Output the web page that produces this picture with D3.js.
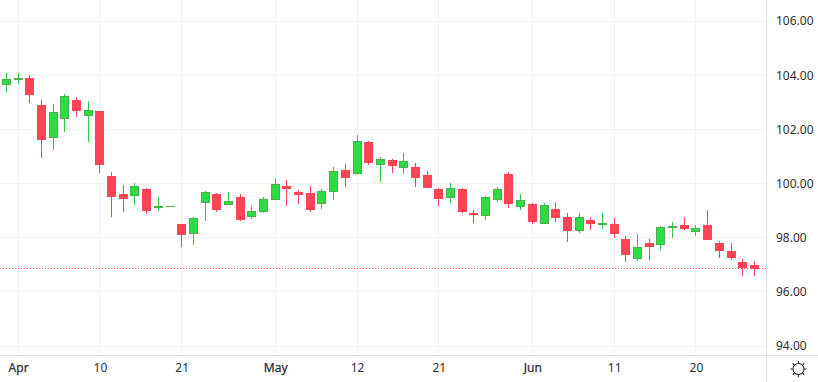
<!DOCTYPE html>
<html>
<head>
<meta charset="utf-8">
<script src="https://cdn.jsdelivr.net/npm/d3@7/dist/d3.min.js"></script>
<style>
    html, body { margin: 0; padding: 0; background: #fff; overflow: hidden; }
    svg { display: block; }
    text { font-family: "Noto Sans", sans-serif; font-size: 12px; fill: #2f2f2f; }
</style>
</head>
<body>
<svg id="chart" width="818" height="382"></svg>
<script>
const open = [103.65,103.82,103.89,102.90,101.69,102.39,103.08,102.50,102.68,100.28,99.61,99.55,99.80,99.11,99.14,98.51,98.15,99.29,99.61,99.22,99.50,98.77,98.96,99.40,99.91,99.69,99.65,99.25,99.70,100.49,100.36,101.53,100.69,100.86,100.58,100.61,100.31,99.80,99.48,99.80,98.91,98.81,99.40,100.35,99.14,99.24,98.52,99.06,98.76,98.24,98.65,98.47,98.51,97.95,97.21,97.80,97.73,98.36,98.47,98.21,98.47,97.80,97.51,97.10,96.99];
const high = [104.08,104.08,104.00,103.08,102.93,103.30,103.19,103.04,102.68,100.42,99.94,100.02,99.83,99.50,99.17,98.51,98.76,99.72,99.65,99.69,99.61,99.17,99.49,100.20,100.13,99.76,99.91,99.80,100.61,100.72,101.79,101.57,100.97,100.90,101.13,100.76,100.46,99.83,100.02,99.83,99.02,99.54,99.87,100.42,99.61,99.28,99.28,99.32,98.91,98.91,98.76,98.91,98.73,98.06,98.14,97.95,98.43,98.58,98.76,98.47,99.02,97.88,97.80,97.21,97.14];
const low = [103.39,103.68,102.98,100.95,101.25,101.91,102.46,101.54,100.40,98.77,98.96,99.22,98.89,99.00,99.14,97.67,97.73,98.63,98.96,99.22,98.63,98.70,98.92,99.40,99.17,99.24,98.96,99.07,99.39,99.87,100.32,100.68,100.06,100.40,100.36,99.88,99.85,99.18,99.29,98.92,98.55,98.66,99.33,99.11,99.03,98.52,98.52,98.59,97.85,98.18,98.28,98.32,97.99,97.10,97.14,97.18,97.55,97.99,98.28,98.06,97.92,97.25,97.18,96.59,96.59];
const close = [103.85,103.89,103.28,101.62,102.63,103.22,102.69,102.70,100.69,99.51,99.44,99.90,99.00,99.17,99.17,98.11,98.72,99.68,99.03,99.34,98.66,98.97,99.42,99.97,99.81,99.58,99.03,99.71,100.45,100.21,101.59,100.77,100.89,100.66,100.82,100.21,99.85,99.44,99.82,98.96,98.85,99.49,99.79,99.25,99.38,98.59,99.20,98.74,98.26,98.75,98.51,98.54,98.14,97.36,97.66,97.66,98.39,98.43,98.32,98.36,97.92,97.51,97.25,96.88,96.84];

// candle index -> label on the time axis
const timeTicks = [1, 8, 15, 23, 30, 37, 45, 52, 59];
const timeLabels = ["Apr", "10", "21", "May", "12", "21", "Jun", "11", "20"];
const monthLabels = ["Apr", "May", "Jun"];
const priceTicks = [94, 96, 98, 100, 102, 104, 106];
const lastPrice = 96.87;

const UP_FILL = "#2ddc45", UP_BORDER = "#4caf50", UP_WICK = "#2ecc40", DOWN = "#ff4455";
const GRID = "#f2f2f2", AXIS = "#e0e0e0";
const PLOT_RIGHT = 766, PLOT_BOTTOM = 355;

const svg = d3.select("#chart");
const x = d3.scaleLinear().domain([0, 64]).range([5.9, 753.9]);
const y = d3.scaleLinear().domain([94, 106]).range([346.1, 21.1]);
const px = i => Math.round(x(i));
const py = v => Math.round(y(v));

// grid
svg.append("g").selectAll("line").data(priceTicks).join("line")
    .attr("x1", 0).attr("x2", PLOT_RIGHT)
    .attr("y1", d => Math.floor(y(d)) + 0.5).attr("y2", d => Math.floor(y(d)) + 0.5)
    .attr("stroke", GRID);
svg.append("g").selectAll("line").data(timeTicks).join("line")
    .attr("x1", d => px(d) + 0.5).attr("x2", d => px(d) + 0.5)
    .attr("y1", 0).attr("y2", PLOT_BOTTOM)
    .attr("stroke", GRID);

// last price
svg.append("line")
    .attr("x1", 0).attr("x2", PLOT_RIGHT)
    .attr("y1", Math.floor(y(lastPrice)) + 0.5).attr("y2", Math.floor(y(lastPrice)) + 0.5)
    .attr("stroke", DOWN).attr("stroke-dasharray", "1 2");

// candles
const candles = svg.append("g").selectAll("g").data(d3.range(open.length)).join("g");
candles.append("rect")
    .attr("x", i => px(i)).attr("width", 1)
    .attr("y", i => py(high[i]))
    .attr("height", i => Math.max(1, py(low[i]) - py(high[i])))
    .attr("fill", i => close[i] >= open[i] ? UP_WICK : DOWN);
candles.append("rect")
    .attr("x", i => px(i) - 3.5).attr("width", 8)
    .attr("y", i => py(Math.max(open[i], close[i])) + 0.5)
    .attr("height", i => Math.max(0.01, py(Math.min(open[i], close[i])) - py(Math.max(open[i], close[i])) - 1))
    .attr("fill", i => close[i] >= open[i] ? UP_FILL : DOWN)
    .attr("stroke", i => close[i] >= open[i] ? UP_BORDER : DOWN);

// price axis
const priceAxis = d3.axisRight(y).tickValues(priceTicks).tickSize(0).tickPadding(10).tickFormat(d3.format(".2f"));
const gPrice = svg.append("g").attr("transform", `translate(${PLOT_RIGHT},0)`).call(priceAxis);
gPrice.select(".domain").remove();

// time axis
const timeAxis = d3.axisBottom(x)
    .tickValues(timeTicks).tickSize(0).tickPadding(8)
    .tickFormat((d, i) => timeLabels[i]);
const gTime = svg.append("g").attr("transform", `translate(0.5,${PLOT_BOTTOM})`).call(timeAxis);
gTime.select(".domain").remove();
gTime.selectAll("text")
    .attr("stroke", d => monthLabels.includes(timeLabels[timeTicks.indexOf(d)]) ? "#2f2f2f" : null)
    .attr("stroke-width", 0.25);
svg.selectAll(".tick text").attr("font-size", null).attr("font-family", null);

// axis borders
svg.append("line").attr("x1", 0).attr("x2", 818).attr("y1", PLOT_BOTTOM + 0.5).attr("y2", PLOT_BOTTOM + 0.5).attr("stroke", AXIS);
svg.append("line").attr("x1", PLOT_RIGHT + 0.5).attr("x2", PLOT_RIGHT + 0.5).attr("y1", 0).attr("y2", 382).attr("stroke", AXIS);

// theme toggle icon
const sun = svg.append("g").attr("transform", "translate(798.5,369)").attr("stroke", "#222").attr("fill", "none");
sun.append("circle").attr("r", 5.5).attr("stroke-width", 1.1);
sun.selectAll("line").data(d3.range(8)).join("line")
    .attr("x1", 0).attr("x2", 0).attr("y1", -6).attr("y2", -8)
    .attr("stroke-width", 1.1)
    .attr("transform", d => `rotate(${d * 45})`);
</script>
</body>
</html>
